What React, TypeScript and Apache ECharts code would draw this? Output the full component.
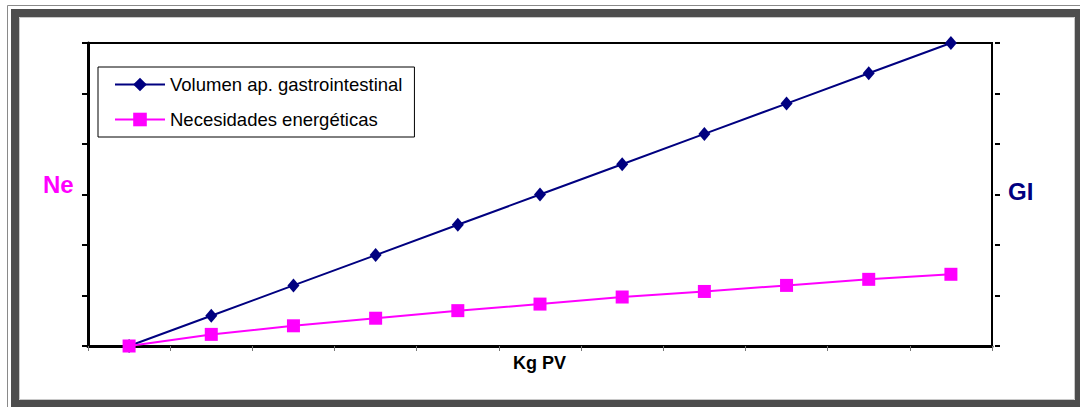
import React, { useEffect, useRef } from "react";
import * as echarts from "echarts";

// Body weight steps (x axis carries no printed labels)
const weights = ["1", "2", "3", "4", "5", "6", "7", "8", "9", "10", "11"];
// Gastrointestinal volume (right axis, GI)
const volumenGI = [0, 6, 12, 18, 24, 30, 36, 42, 48, 54, 60];
// Energy needs (left axis, Ne)
const necesidadesNe = [0, 2.3, 4.0, 5.5, 7.0, 8.3, 9.7, 10.8, 12.0, 13.2, 14.2];

const NAVY = "#000080";
const MAGENTA = "#ff00ff";
const FONT = "'Liberation Sans', Arial, sans-serif";

export default function App() {
  const ref = useRef<HTMLDivElement>(null);

  useEffect(() => {
    if (!ref.current) return;
    const chart = echarts.init(ref.current, undefined, { renderer: "svg" });
    chart.setOption({
      animation: false,
      backgroundColor: "#ffffff",
      textStyle: { fontFamily: FONT },
      grid: {
        left: 88,
        right: 88,
        top: 43,
        bottom: 61,
        show: true,
        borderColor: "#000",
        borderWidth: 2,
        backgroundColor: "transparent",
      },
      legend: {
        orient: "vertical",
        left: 98,
        top: 67,
        padding: [8, 12, 8, 16],
        borderColor: "#000",
        borderWidth: 1,
        itemWidth: 50,
        itemHeight: 17,
        itemGap: 16,
        textStyle: { fontSize: 18.5, color: "#000", fontFamily: FONT },
        data: ["Volumen ap. gastrointestinal", "Necesidades energéticas"],
      },
      xAxis: {
        type: "category",
        data: weights,
        boundaryGap: true,
        axisLine: { lineStyle: { color: "#000", width: 3 } },
        axisTick: {
          show: true,
          interval: 0,
          length: 5,
          lineStyle: { color: "#777", width: 1 },
        },
        axisLabel: { show: false },
        splitLine: { show: false },
      },
      yAxis: [
        {
          type: "value",
          position: "left",
          min: 0,
          max: 60,
          interval: 10,
          axisLine: { show: true, lineStyle: { color: "#000", width: 3 } },
          axisTick: { show: true, length: 6, lineStyle: { color: "#000", width: 2 } },
          axisLabel: { show: false },
          splitLine: { show: false },
        },
        {
          type: "value",
          position: "right",
          min: 0,
          max: 60,
          interval: 10,
          offset: 3,
          axisLine: { show: false },
          axisTick: { show: true, length: 5, lineStyle: { color: "#000", width: 2 } },
          axisLabel: { show: false },
          splitLine: { show: false },
        },
      ],
      series: [
        {
          name: "Volumen ap. gastrointestinal",
          type: "line",
          yAxisIndex: 1,
          data: volumenGI,
          symbol: "diamond",
          symbolSize: [12, 14],
          lineStyle: { color: NAVY, width: 2 },
          itemStyle: { color: NAVY },
          z: 3,
        },
        {
          name: "Necesidades energéticas",
          type: "line",
          yAxisIndex: 0,
          data: necesidadesNe,
          symbol: "rect",
          symbolSize: 13,
          lineStyle: { color: MAGENTA, width: 2 },
          itemStyle: { color: MAGENTA },
          z: 4,
        },
      ],
      graphic: [
        // outer frame
        {
          type: "rect",
          silent: true,
          shape: { x: 7.5, y: 5.5, width: 1100, height: 450 },
          style: { fill: "none", stroke: "#8a8a8a", lineWidth: 1 },
        },
        {
          type: "rect",
          silent: true,
          shape: { x: 15, y: 13, width: 1064, height: 391 },
          style: { fill: "none", stroke: "#4d4d4d", lineWidth: 8 },
        },
        {
          type: "rect",
          silent: true,
          shape: { x: 19.5, y: 17.5, width: 1055, height: 382 },
          style: { fill: "none", stroke: "#c8c8c8", lineWidth: 1 },
        },
        // axis titles
        {
          type: "text",
          left: 43,
          top: 172,
          style: {
            text: "Ne",
            fill: MAGENTA,
            font: `bold 24px ${FONT}`,
          },
        },
        {
          type: "text",
          left: 1008,
          top: 179,
          style: {
            text: "GI",
            fill: NAVY,
            font: `bold 24px ${FONT}`,
          },
        },
        {
          type: "text",
          left: 513,
          top: 354,
          style: {
            text: "Kg PV",
            fill: "#000",
            font: `bold 18px ${FONT}`,
          },
        },
      ],
    });
    return () => chart.dispose();
  }, []);

  return (
    <div
      ref={ref}
      style={{ position: "fixed", left: 0, top: 0, width: 1080, height: 407 }}
    />
  );
}
